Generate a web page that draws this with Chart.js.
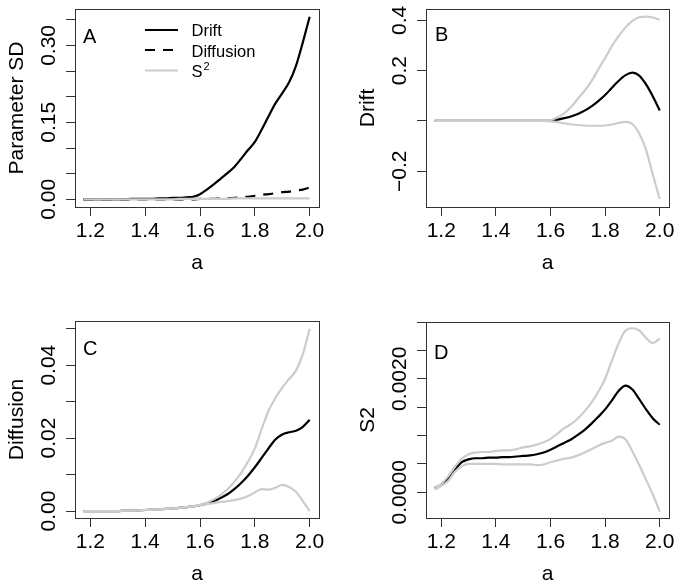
<!DOCTYPE html>
<html>
<head>
<meta charset="utf-8">
<script src="https://cdn.jsdelivr.net/npm/chart.js@4/dist/chart.umd.min.js"></script>
<style>
  html, body { margin: 0; padding: 0; background: #ffffff; }
  #wrap { position: relative; width: 680px; height: 588px; }
  #wrap canvas { position: absolute; }
</style>
</head>
<body>
<div id="wrap">
  <canvas id="panel-a" width="340" height="294" style="left:0;top:0"></canvas>
  <canvas id="panel-b" width="340" height="294" style="left:340px;top:0"></canvas>
  <canvas id="panel-c" width="340" height="294" style="left:0;top:294px"></canvas>
  <canvas id="panel-d" width="340" height="294" style="left:340px;top:294px"></canvas>
</div>
<script>
'use strict';

// values of a (x axis), shared by all four panels

const aValues = [1.175, 1.2, 1.225, 1.25, 1.275, 1.3, 1.325, 1.35, 1.375, 1.4, 1.425, 1.45, 1.475, 1.5, 1.525, 1.55, 1.575,
    1.6, 1.625, 1.65, 1.675, 1.7, 1.725, 1.75, 1.775, 1.8, 1.825, 1.85, 1.875, 1.9, 1.925, 1.95, 1.975, 2.0]

// panel A - parameter SD

const sdDrift = [0, 0, 0, 0, 0, 0, 0, 0.001, 0.001, 0.001, 0.001, 0.002, 0.002, 0.003, 0.003, 0.004, 0.005,
    0.010, 0.019, 0.029, 0.040, 0.051, 0.063, 0.079, 0.096, 0.112, 0.136, 0.162, 0.187, 0.207, 0.228, 0.260, 0.306, 0.356]
const sdDiffusion = [0, 0, 0, 0, 0, 0, 0, 0, 0, 0, 0, 0, 0, 0, 0, 0, 0,
    0.001, 0.001, 0.001, 0.002, 0.002, 0.003, 0.004, 0.005, 0.007, 0.009, 0.010, 0.012, 0.014, 0.015, 0.017, 0.019, 0.023]
const sdS2 = [0, 0, 0, 0, 0, 0, 0, 0, 0, 0, 0, 0, 0, 0, 0.001, 0.001, 0.001,
    0.001, 0.001, 0.001, 0.001, 0.001, 0.002, 0.002, 0.002, 0.002, 0.002, 0.002, 0.002, 0.002, 0.002, 0.002, 0.002, 0.002]

// panel B - drift

const driftMean = [0, 0, 0, 0, 0, 0, 0, 0, 0, 0, 0, 0, 0, 0, 0, 0, 0,
    0.001, 0.005, 0.011, 0.018, 0.028, 0.041, 0.058, 0.079, 0.103, 0.132, 0.160, 0.182, 0.192, 0.180, 0.145, 0.097, 0.042]
const driftUpper = [0, 0, 0, 0, 0, 0, 0, 0, 0, 0, 0, 0, 0, 0, 0, 0, 0.001,
    0.004, 0.014, 0.030, 0.055, 0.088, 0.120, 0.158, 0.205, 0.250, 0.298, 0.338, 0.372, 0.398, 0.412, 0.415, 0.411, 0.402]
const driftLower = [0, 0, 0, 0, 0, 0, 0, 0, 0, 0, 0, 0, 0, 0, 0, 0, 0,
    -0.002, -0.005, -0.009, -0.013, -0.016, -0.018, -0.019, -0.019, -0.018, -0.014, -0.008, -0.004, -0.012, -0.050, -0.115, -0.215, -0.310]

// panel C - diffusion

const diffusionMean = [0, 0, 0, 0, 0, 0, 0.0001, 0.0001, 0.0002, 0.0003, 0.0004, 0.0005, 0.0006, 0.0007, 0.0009, 0.0011, 0.0013,
    0.0016, 0.0021, 0.0027, 0.0036, 0.0046, 0.0060, 0.0077, 0.0097, 0.0120, 0.0146, 0.0172, 0.0196, 0.0210, 0.0216, 0.0220, 0.0231, 0.0250]
const diffusionUpper = [0, 0, 0, 0, 0, 0, 0.0001, 0.0001, 0.0002, 0.0003, 0.0004, 0.0005, 0.0006, 0.0007, 0.0009, 0.0011, 0.0013,
    0.0017, 0.0023, 0.0032, 0.0044, 0.0060, 0.0080, 0.0105, 0.0135, 0.0172, 0.0225, 0.0275, 0.0310, 0.0338, 0.0362, 0.0385, 0.0430, 0.0500]
const diffusionLower = [0, 0, 0, 0, 0, 0, 0.0001, 0.0001, 0.0002, 0.0003, 0.0004, 0.0005, 0.0006, 0.0007, 0.0009, 0.0011, 0.0013,
    0.0016, 0.0019, 0.0022, 0.0025, 0.0027, 0.0030, 0.0034, 0.0041, 0.0051, 0.0060, 0.0059, 0.0064, 0.0072, 0.0066, 0.0053, 0.0027, 0.0000]

// panel D - S2

const s2Mean = [0.00008, 0.00013, 0.00024, 0.00040, 0.00053, 0.00058, 0.00060, 0.00060, 0.00061, 0.00061, 0.00062, 0.00062, 0.00063,
    0.00064, 0.00065, 0.00067, 0.00070, 0.00075, 0.00081, 0.00087, 0.00093, 0.00101, 0.00110, 0.00121, 0.00133, 0.00146, 0.00162,
    0.00179, 0.00188, 0.00181, 0.00164, 0.00146, 0.00130, 0.00119]
const s2Upper = [0.00008, 0.00015, 0.00028, 0.00045, 0.00059, 0.00067, 0.00070, 0.00071, 0.00071, 0.00073, 0.00074, 0.00074, 0.00076,
    0.00079, 0.00081, 0.00084, 0.00088, 0.00094, 0.00103, 0.00113, 0.00120, 0.00130, 0.00143, 0.00158, 0.00177, 0.00200, 0.00232,
    0.00263, 0.00285, 0.00289, 0.00285, 0.00272, 0.00263, 0.00271]
const s2Lower = [0.00005, 0.00011, 0.00020, 0.00036, 0.00046, 0.00050, 0.00050, 0.00050, 0.00050, 0.00050, 0.00049, 0.00049, 0.00049,
    0.00049, 0.00049, 0.00048, 0.00049, 0.00053, 0.00056, 0.00059, 0.00061, 0.00065, 0.00070, 0.00076, 0.00082, 0.00087, 0.00091,
    0.00098, 0.00093, 0.00072, 0.00048, 0.00022, -0.00004, -0.00034]

// tick values and labels (empty label = tick mark only, like R drops overlapping labels)

const xTicks = [1.2, 1.4, 1.6, 1.8, 2.0]
const xTickLabels = ['1.2', '1.4', '1.6', '1.8', '2.0']

const yTicksA = [0, 0.05, 0.10, 0.15, 0.20, 0.25, 0.30, 0.35]
const yTickLabelsA = ['0.00', '', '', '0.15', '', '', '0.30', '']
const yTicksB = [-0.2, 0, 0.2, 0.4]
const yTickLabelsB = ['\u22120.2', '', '0.2', '0.4']
const yTicksC = [0, 0.01, 0.02, 0.03, 0.04, 0.05]
const yTickLabelsC = ['0.00', '', '0.02', '', '0.04', '']
const yTicksD = [0, 0.0005, 0.0010, 0.0015, 0.0020, 0.0025, 0.0030]
const yTickLabelsD = ['0.0000', '', '', '', '0.0020', '', '']

const legendLabels = ['Drift', 'Diffusion', 'S']

const black = '#000000'
const grey = '#cccccc'
const axisColor = '#333333'
const font = '"Liberation Sans", Arial, sans-serif'

// draws the frame, tick labels, axis titles, panel letter and legend

const panelText = {
    id: 'panelText',
    afterDraw(chart, args, opts) {
        const ctx = chart.ctx
        const area = chart.chartArea
        const xScale = chart.scales.x
        const yScale = chart.scales.y

        ctx.save()

        // frame

        ctx.strokeStyle = axisColor
        ctx.lineWidth = 1
        ctx.strokeRect(Math.round(area.left) + 0.5, Math.round(area.top) + 0.5,
            Math.round(area.right - area.left), Math.round(area.bottom - area.top))

        ctx.fillStyle = '#000'
        ctx.font = `21px ${font}`
        ctx.textBaseline = 'alphabetic'

        // x tick labels

        ctx.textAlign = 'center'
        xTicks.forEach((v, i) => {
            ctx.fillText(xTickLabels[i], xScale.getPixelForValue(v), area.bottom + 30)
        })

        // x title

        ctx.fillText('a', (area.left + area.right) / 2, area.bottom + 62)

        // y tick labels, rotated like R

        opts.yTicks.forEach((v, i) => {
            const label = opts.yLabels[i]
            if (!label) return
            ctx.save()
            ctx.translate(area.left - 20, yScale.getPixelForValue(v))
            ctx.rotate(-Math.PI / 2)
            ctx.fillText(label, 0, 0)
            ctx.restore()
        })

        // y title

        ctx.save()
        ctx.translate(area.left - 52, (area.top + area.bottom) / 2)
        ctx.rotate(-Math.PI / 2)
        ctx.fillText(opts.yTitle, 0, 0)
        ctx.restore()

        // panel letter

        ctx.textAlign = 'left'
        ctx.font = `20px ${font}`
        ctx.fillText(opts.letter, area.left + opts.letterDx, area.top + opts.letterDy)

        // legend (panel A only)

        if (opts.legend) {
            const styles = [
                { color: black, dash: [] },
                { color: black, dash: [10, 8] },
                { color: grey, dash: [] }
            ]
            const lineY = [30, 50, 70.5]
            const textY = [36, 56.5, 77]

            styles.forEach((s, i) => {
                ctx.strokeStyle = s.color
                ctx.lineWidth = 2.2
                ctx.setLineDash(s.dash)
                ctx.beginPath()
                ctx.moveTo(145, lineY[i])
                ctx.lineTo(178, lineY[i])
                ctx.stroke()
            })
            ctx.setLineDash([])

            ctx.font = `16.5px ${font}`
            legendLabels.forEach((label, i) => {
                ctx.fillText(label, 191.5, textY[i])
            })
            const sWidth = ctx.measureText('S').width
            ctx.font = `11px ${font}`
            ctx.fillText('2', 191.5 + sWidth + 1, textY[2] - 7)
        }

        ctx.restore()
    }
}

// builds one panel; grey lines get order 0 so they are drawn over the black ones

function makePanel(canvasId, panel) {
    const box = panel.box

    const datasets = panel.series.map(s => ({
        data: aValues.map((x, i) => ({ x: x, y: s.values[i] })),
        borderColor: s.color,
        borderWidth: 2.2,
        borderDash: s.dash || [],
        order: s.color === grey ? 0 : 1,
        pointRadius: 0,
        fill: false,
        cubicInterpolationMode: 'monotone'
    }))

    return new Chart(document.getElementById(canvasId), {
        type: 'line',
        data: { datasets: datasets },
        options: {
            responsive: false,
            animation: false,
            devicePixelRatio: 1,
            layout: {
                padding: { left: box.left - 10, right: 340 - box.right, top: box.top, bottom: 294 - box.bottom - 10 }
            },
            plugins: {
                legend: { display: false },
                tooltip: { enabled: false },
                panelText: {
                    yTicks: panel.yTicks,
                    yLabels: panel.yLabels,
                    yTitle: panel.yTitle,
                    letter: panel.letter,
                    letterDx: panel.letterDx,
                    letterDy: panel.letterDy,
                    legend: panel.legend
                }
            },
            scales: {
                x: {
                    type: 'linear',
                    min: 1.144,
                    max: 2.034,
                    afterBuildTicks: s => { s.ticks = xTicks.map(v => ({ value: v })) },
                    afterFit: s => { s.height = 10 },
                    ticks: { display: false },
                    grid: { drawOnChartArea: false, tickLength: 9, color: axisColor, lineWidth: 1 },
                    border: { color: axisColor, width: 1 }
                },
                y: {
                    type: 'linear',
                    min: panel.yMin,
                    max: panel.yMax,
                    afterBuildTicks: s => { s.ticks = panel.yTicks.map(v => ({ value: v })) },
                    afterFit: s => { s.width = 10 },
                    ticks: { display: false },
                    grid: { drawOnChartArea: false, tickLength: 9, color: axisColor, lineWidth: 1 },
                    border: { color: axisColor, width: 1 }
                }
            }
        },
        plugins: [panelText]
    })
}

makePanel('panel-a', {
    box: { left: 75, right: 319, top: 9, bottom: 207 },
    yMin: -0.015, yMax: 0.371,
    yTicks: yTicksA, yLabels: yTickLabelsA, yTitle: 'Parameter SD',
    letter: 'A', letterDx: 8, letterDy: 34, legend: true,
    series: [
        { values: sdDrift, color: black },
        { values: sdDiffusion, color: black, dash: [10, 8] },
        { values: sdS2, color: grey }
    ]
})

makePanel('panel-b', {
    box: { left: 86, right: 329, top: 9, bottom: 207 },
    yMin: -0.342, yMax: 0.445,
    yTicks: yTicksB, yLabels: yTickLabelsB, yTitle: 'Drift',
    letter: 'B', letterDx: 9, letterDy: 32, legend: false,
    series: [
        { values: driftMean, color: black },
        { values: driftUpper, color: grey },
        { values: driftLower, color: grey }
    ]
})

makePanel('panel-c', {
    box: { left: 75, right: 319, top: 27, bottom: 224 },
    yMin: -0.0019, yMax: 0.0521,
    yTicks: yTicksC, yLabels: yTickLabelsC, yTitle: 'Diffusion',
    letter: 'C', letterDx: 8, letterDy: 34, legend: false,
    series: [
        { values: diffusionMean, color: black },
        { values: diffusionUpper, color: grey },
        { values: diffusionLower, color: grey }
    ]
})

makePanel('panel-d', {
    box: { left: 86, right: 329, top: 28, bottom: 224 },
    yMin: -0.000453, yMax: 0.0030,
    yTicks: yTicksD, yLabels: yTickLabelsD, yTitle: 'S2',
    letter: 'D', letterDx: 8, letterDy: 37, legend: false,
    series: [
        { values: s2Mean, color: black },
        { values: s2Upper, color: grey },
        { values: s2Lower, color: grey }
    ]
})
</script>
</body>
</html>
